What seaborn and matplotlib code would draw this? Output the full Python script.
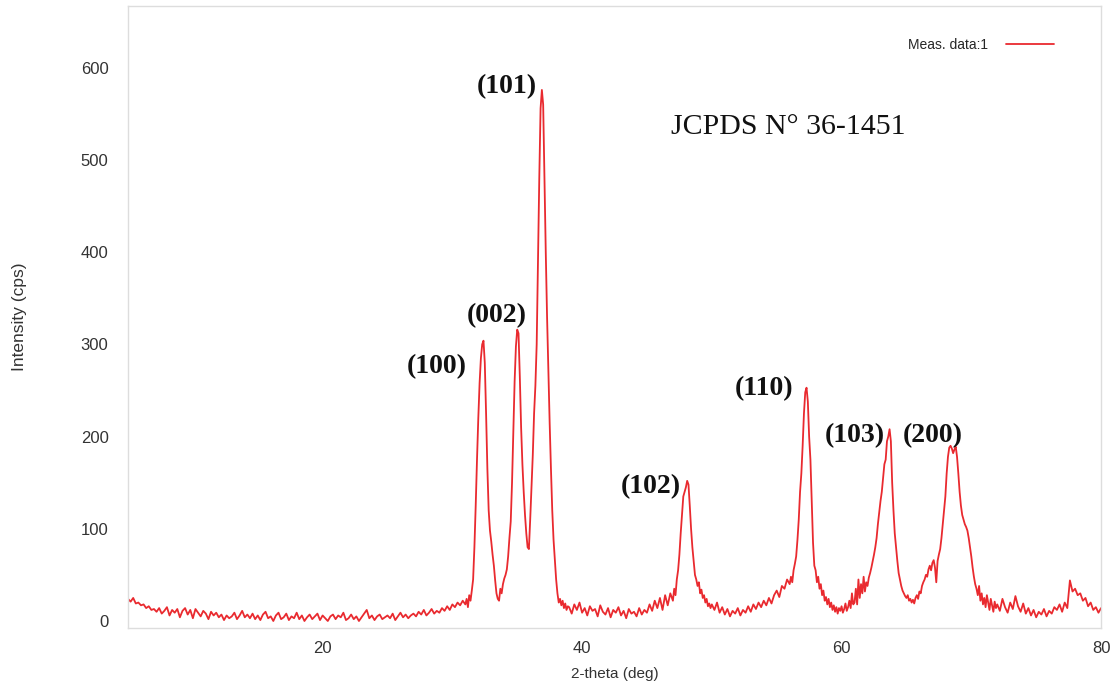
import numpy as np
import pandas as pd
import matplotlib
matplotlib.use("Agg")
import matplotlib.pyplot as plt
import seaborn as sns

# intensity, segment by segment (start angle, step, values)
bg_low = [24, 21, 25, 19, 20, 17, 18, 14, 16, 12,
          13, 10, 14, 8, 11, 15, 6, 12, 9, 13,
          4, 11, 14, 7, 12, 3, 13, 9, 5, 11,
          8, 2, 10, 6, 9, 4, 7, 1, 6, 3,
          5, 9, 2, 6, 11, 4, 7, 3, 8, 2,
          6, 1, 7, 10, 3, 5, 0, 6, 9, 2,
          4, 8, 1, 5, 3, 9, 2, 6, 0, 4,
          7, 2, 5, 8, 1, 6, 3, 0, 5, 7,
          2, 6, 4, 9, 1, 3, 7, 2, 5, 0,
          4, 8, 12, 3, 6, 1, 5, 7, 2, 4,
          6, 3, 8, 1, 5, 9, 4, 7, 3, 6,
          8, 5, 10, 7, 12, 6, 9, 13, 8, 11,
          9, 14, 11, 16, 12, 18, 15, 20, 17, 22]
zno_main = [18, 24, 15, 28, 22, 33, 45, 80, 125, 175,
            220, 258, 285, 300, 304, 280, 225, 165, 120, 98,
            86, 72, 60, 44, 30, 24, 22, 35, 30, 40,
            46, 50, 56, 70, 90, 108, 150, 205, 260, 298,
            316, 312, 265, 210, 170, 140, 115, 95, 80, 78,
            110, 145, 180, 225, 255, 300, 390, 480, 556, 576,
            560, 480, 400, 330, 270, 215, 165, 120, 88, 66,
            45, 30, 20, 24, 17, 22, 14, 19, 12, 16]
bg_mid = [15, 8, 18, 12, 20, 9, 14, 6, 16, 11,
          13, 5, 17, 10, 7, 14, 4, 12, 9, 15,
          6, 11, 3, 13, 8, 10, 5, 14, 7, 12,
          9, 18, 11, 22, 14, 25, 12, 28, 17, 30]
peak_102 = [22, 35, 28, 45, 55, 72, 95, 115, 135, 140,
            145, 152, 148, 125, 100, 80, 65, 50, 45, 38,
            42, 30, 34, 25, 28, 20, 24, 16, 19, 14]
bg_high = [18, 12, 20, 9, 15, 7, 13, 5, 11, 8,
           14, 6, 12, 9, 16, 10, 18, 13, 20, 15,
           22, 17, 25, 19, 28, 33, 26, 38, 35, 45]
peak_110 = [40, 48, 42, 55, 62, 70, 88, 110, 140, 160,
            190, 225, 248, 253, 238, 200, 175, 130, 85, 60,
            55, 42, 48, 35, 40, 28, 33, 22, 26, 18,
            24, 15, 20, 12, 17, 10, 15, 8, 14, 11,
            16, 9, 13, 19, 11, 15, 22, 14, 30, 18]
peak_103_200 = [20, 35, 18, 45, 25, 40, 30, 48, 32, 42,
                38, 47, 52, 58, 65, 72, 80, 90, 105, 118,
                130, 140, 155, 170, 175, 195, 200, 208, 195, 150,
                120, 95, 80, 65, 52, 45, 38, 33, 30, 27,
                25, 28, 22, 24, 20, 23, 19, 25, 28, 24,
                32, 30, 38, 42, 45, 50, 48, 56, 60, 55,
                63, 66, 58, 42, 65, 72, 78, 90, 105, 120,
                135, 160, 178, 188, 190, 187, 182, 186, 189, 178,
                160, 140, 125, 115, 110, 105, 102, 98, 90, 80,
                70, 58, 48, 40, 35, 28, 38, 22, 30, 18,
                25, 15, 28, 20, 12, 24, 17, 10, 21, 14]
bg_tail = [18, 11, 24, 15, 9, 20, 13, 27, 16, 10,
           19, 8, 14, 6, 12, 4, 10, 7, 13, 5,
           11, 8, 15, 12, 18, 10, 20, 14, 44, 32,
           35, 28, 30, 22, 25, 16, 20, 12, 15, 9,
           14]

segments = [(5.0, 0.2, bg_low), (31.0, 0.1, zno_main), (39.0, 0.2, bg_mid),
            (47.0, 0.1, peak_102), (50.0, 0.2, bg_high), (56.0, 0.1, peak_110),
            (61.0, 0.1, peak_103_200), (72.0, 0.2, bg_tail)]

two_theta = np.concatenate([start + step * np.arange(len(v)) for start, step, v in segments])
intensity = np.concatenate([v for _, _, v in segments])
df = pd.DataFrame({"2-theta (deg)": two_theta, "Intensity (cps)": intensity})

peak_labels = ["(100)", "(002)", "(101)", "(102)", "(110)", "(103)", "(200)"]
label_x = [28.8, 33.4, 34.2, 45.3, 54.0, 61.0, 67.0]
label_y = [276, 331, 580, 146, 252, 201, 201]

sns.set_style("white")
plt.rcParams["font.family"] = ["Liberation Sans", "DejaVu Sans"]

fig = plt.figure(figsize=(11.16, 6.88), dpi=100)
ax = fig.add_axes([0.1147, 0.0872, 0.8719, 0.9041])

sns.lineplot(data=df, x="2-theta (deg)", y="Intensity (cps)", color="#e92a2f",
             linewidth=1.3, label="Meas. data:1", ax=ax)

ax.set_xlim(5, 80)
ax.set_ylim(-7.6, 667)
ax.set_xticks([20, 40, 60, 80])
ax.set_yticks([0, 100, 200, 300, 400, 500, 600])
ax.tick_params(axis="y", length=0, pad=14, labelsize=12, labelcolor="#333333")
ax.tick_params(axis="x", length=0, pad=9, labelsize=12, labelcolor="#333333")
ax.set_xlabel("2-theta (deg)", fontsize=11, color="#333333", labelpad=8)
ax.set_ylabel("Intensity (cps)", fontsize=12.5, color="#333333")
ax.yaxis.set_label_coords(-0.104, 0.5)

for s in ax.spines.values():
    s.set_color("#dddddd")
    s.set_linewidth(1)

for lab, lx, ly in zip(peak_labels, label_x, label_y):
    ax.text(lx, ly, lab, ha="center", va="center", fontsize=20, fontweight="bold",
            family=["Liberation Serif", "DejaVu Serif"], color="#111111")

ax.text(55.9, 536, "JCPDS N° 36-1451", ha="center", va="center", fontsize=21.5,
        family=["Liberation Serif", "DejaVu Serif"], color="#111111")

ax.legend(loc="upper right", bbox_to_anchor=(0.965, 0.9685), frameon=False,
          markerfirst=False, fontsize=10, handlelength=3.5, handletextpad=1.3)

fig.savefig("out.png", dpi=100)
